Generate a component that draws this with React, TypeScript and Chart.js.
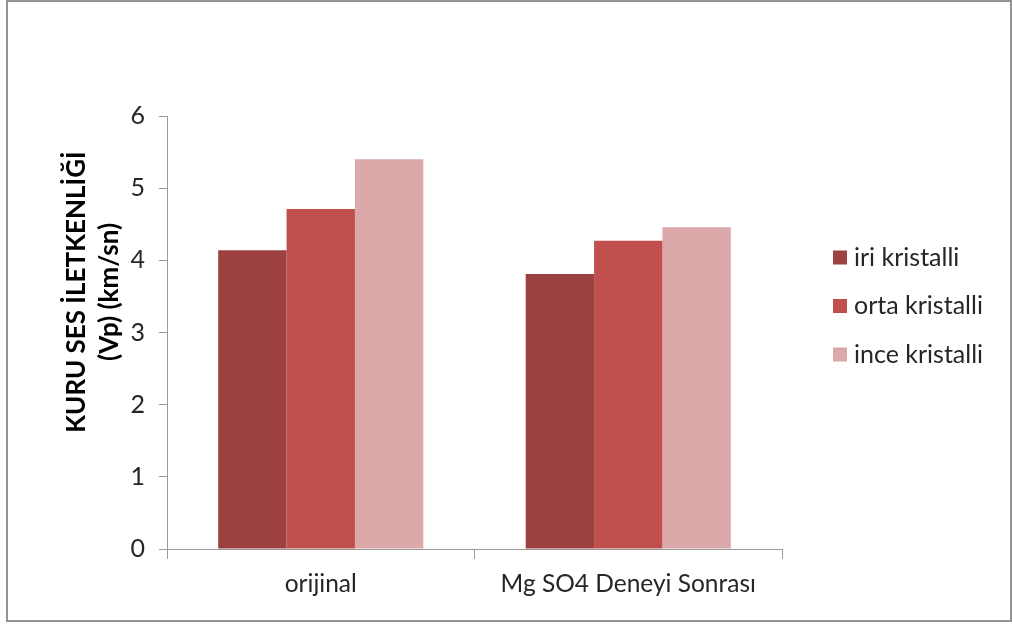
import React, { useEffect, useRef } from "react";
import { Chart, registerables } from "chart.js";

Chart.register(...registerables);

const categories = ["orijinal", "Mg SO4 Deneyi Sonrası"];
const seriesNames = ["iri kristalli", "orta kristalli", "ince kristalli"];
const iriValues = [4.14, 3.81];
const ortaValues = [4.71, 4.27];
const inceValues = [5.4, 4.46];
const seriesColors = ["#9D4040", "#C0504D", "#DBA9A9"];
const yTicks = [0, 1, 2, 3, 4, 5, 6];
const yTitle = ["KURU SES İLETKENLİĞİ", "(Vp) (km/sn)"];

const FONT = "Lato, 'Open Sans', sans-serif";
const TEXT = "#262626";
const AXIS = "#9a9a9a";

const legendPlugin = {
  id: "sideLegend",
  afterDraw(chart: any) {
    const ctx = chart.ctx;
    ctx.save();
    ctx.font = `25px ${FONT}`;
    ctx.textBaseline = "middle";
    ctx.textAlign = "left";
    chart.data.datasets.forEach((ds: any, i: number) => {
      const y = 257.5 + i * 48.5;
      ctx.fillStyle = ds.backgroundColor;
      ctx.fillRect(833, y - 7, 14, 14);
      ctx.fillStyle = TEXT;
      ctx.fillText(ds.label, 854, y);
    });
    ctx.restore();
  },
};

const yTitlePlugin = {
  id: "yTitle",
  afterDraw(chart: any) {
    const ctx = chart.ctx;
    ctx.save();
    ctx.font = `bold 26px ${FONT}`;
    ctx.fillStyle = "#000";
    ctx.textAlign = "center";
    ctx.textBaseline = "middle";
    ctx.translate(77, 292);
    ctx.rotate(-Math.PI / 2);
    yTitle.forEach((line, i) => {
      ctx.fillText(line, 0, i * 33);
    });
    ctx.restore();
  },
};

export default function App() {
  const ref = useRef<HTMLCanvasElement | null>(null);
  useEffect(() => {
    if (!ref.current) return;
    const values = [iriValues, ortaValues, inceValues];
    const chart = new Chart(ref.current, {
      type: "bar",
      data: {
        labels: categories,
        datasets: seriesNames.map((name, i) => ({
          label: name,
          data: values[i],
          backgroundColor: seriesColors[i],
          borderWidth: 0,
          categoryPercentage: 0.667,
          barPercentage: 1.0,
        })),
      },
      options: {
        animation: false,
        responsive: false,
        layout: { padding: { left: 50, right: 230, top: 116, bottom: 27 } },
        plugins: {
          legend: { display: false },
          tooltip: { enabled: false },
        },
        scales: {
          x: {
            grid: {
              display: true,
              offset: true,
              drawOnChartArea: false,
              drawTicks: true,
              tickLength: 10,
              color: AXIS,
              lineWidth: 1,
            },
            border: { display: true, color: AXIS, width: 1 },
            ticks: {
              color: TEXT,
              font: { family: FONT, size: 24.5 },
              padding: 10,
              maxRotation: 0,
              autoSkip: false,
            },
            afterFit: (scale: any) => {
              scale.height = 50;
            },
          },
          y: {
            min: 0,
            max: 6,
            afterBuildTicks: (scale: any) => {
              scale.ticks = yTicks.map((v) => ({ value: v }));
            },
            grid: {
              display: true,
              drawOnChartArea: false,
              drawTicks: true,
              tickLength: 8,
              color: AXIS,
            },
            border: { display: true, color: AXIS, width: 1 },
            ticks: {
              color: TEXT,
              font: { family: FONT, size: 25 },
              padding: 14,
            },
            afterFit: (scale: any) => {
              scale.width = 117;
            },
          },
        },
      },
      plugins: [legendPlugin, yTitlePlugin],
    });
    return () => chart.destroy();
  }, []);

  return (
    <div
      style={{
        position: "fixed",
        left: 0,
        top: 0,
        width: 1012,
        height: 626,
        background: "#fff",
      }}
    >
      <canvas
        ref={ref}
        width={1012}
        height={626}
        style={{ position: "absolute", left: 0, top: 0, width: 1012, height: 626 }}
      />
      <div
        style={{
          position: "absolute",
          left: 6,
          top: 0,
          width: 1006,
          height: 622,
          boxSizing: "border-box",
          border: "2px solid #939393",
          pointerEvents: "none",
        }}
      />
    </div>
  );
}
